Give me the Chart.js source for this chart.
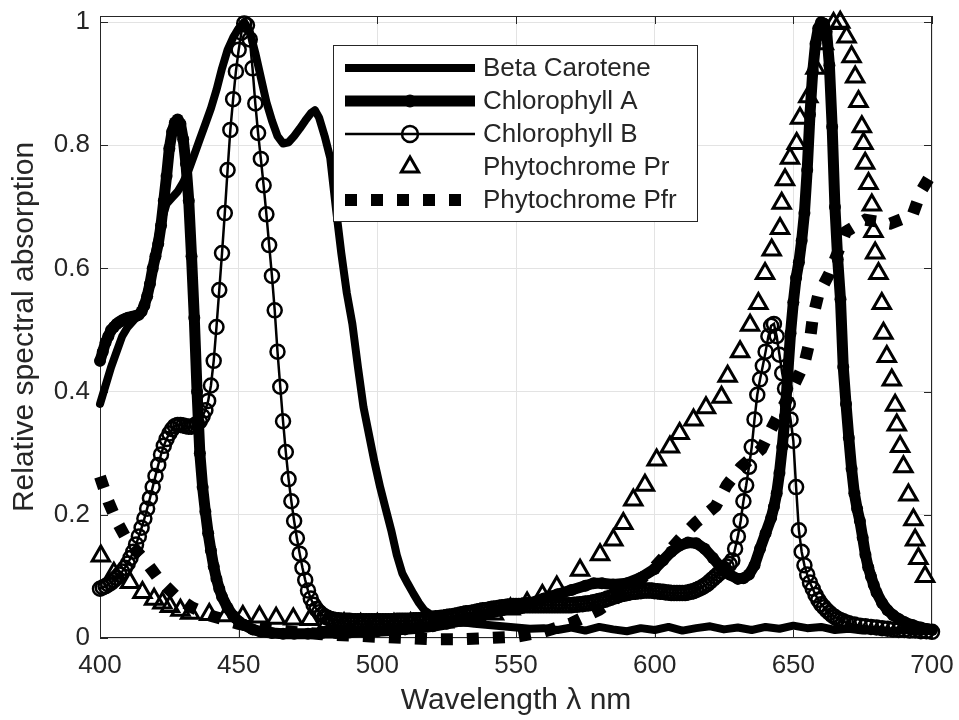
<!DOCTYPE html>
<html>
<head>
<meta charset="utf-8">
<title>Relative spectral absorption</title>
<script src="https://cdn.jsdelivr.net/npm/chart.js@4.4.1/dist/chart.umd.min.js"></script>
<style>
  html, body { margin: 0; padding: 0; background: #fff; }
  canvas { display: block; }
</style>
</head>
<body>
<canvas id="spectra" width="959" height="720"></canvas>
<script>
// [wavelength nm, relative absorption]
const betaCarotene = [
  [400,0.38],[402,0.41],[404,0.44],[406,0.465],[408,0.49],[410,0.505],[412,0.515],[414,0.525],[416,0.545],[418,0.58],
  [420,0.63],[422,0.675],[424,0.705],[426,0.715],[428,0.725],[430,0.74],[432,0.76],[434,0.785],[436,0.81],[438,0.835],
  [440,0.86],[442,0.89],[444,0.925],[446,0.955],[448,0.975],[450,0.99],[452,1.0],[454,0.985],[456,0.95],[458,0.91],
  [460,0.87],[462,0.84],[464,0.815],[466,0.803],[468,0.805],[470,0.815],[472,0.827],[474,0.84],[476,0.852],[477.5,0.857],
  [479,0.845],[481,0.815],[483,0.78],[485,0.7],[487,0.625],[489,0.56],[491,0.51],[493,0.44],[495,0.375],[497,0.33],
  [499,0.285],[501,0.245],[503,0.21],[505,0.175],[507,0.135],[509,0.105],[511,0.088],[513,0.072],[515,0.057],[517,0.045],
  [520,0.036],[525,0.03],[530,0.026],[535,0.023],[540,0.021],[545,0.019],[550,0.017],[555,0.015],[560,0.016],[565,0.013],
  [570,0.017],[575,0.012],[580,0.018],[585,0.014],[590,0.011],[595,0.016],[600,0.013],[605,0.018],[610,0.012],[615,0.016],
  [620,0.019],[625,0.014],[630,0.017],[635,0.013],[640,0.018],[645,0.015],[650,0.02],[655,0.016],[660,0.018],[665,0.013],
  [670,0.015],[675,0.012],[680,0.014],[685,0.011],[690,0.013],[695,0.01],[700,0.012]
];

const chlorophyllA = [
  [400,0.45],[401,0.465],[402,0.48],[403,0.49],[404,0.5],[405,0.505],[406,0.51],[407,0.513],[408,0.516],[409,0.518],
  [410,0.52],[411,0.521],[412,0.522],[413,0.523],[414,0.525],[415,0.53],[416,0.54],[417,0.555],[418,0.575],[419,0.6],
  [420,0.62],[421,0.64],[422,0.67],[423,0.71],[424,0.75],[425,0.795],[426,0.822],[427,0.837],[428,0.842],[429,0.835],
  [430,0.81],[431,0.77],[432,0.71],[433,0.62],[434,0.52],[435,0.4],[436,0.3],[437,0.245],[438,0.205],[439,0.17],
  [440,0.142],[441,0.116],[442,0.096],[443,0.08],[444,0.067],[446,0.049],[448,0.036],[450,0.027],[452,0.021],[455,0.014],
  [458,0.01],[462,0.008],[466,0.007],[470,0.007],[475,0.007],[480,0.008],[485,0.008],[490,0.009],[495,0.01],[500,0.011],
  [505,0.012],[510,0.014],[515,0.016],[520,0.019],[525,0.023],[530,0.028],[535,0.033],[540,0.039],[545,0.045],[550,0.051],
  [555,0.057],[560,0.064],[565,0.071],[570,0.078],[575,0.085],[578,0.089],[581,0.089],[585,0.087],[590,0.089],[595,0.098],
  [600,0.112],[603,0.126],[606,0.14],[609,0.15],[612,0.155],[615,0.154],[618,0.145],[621,0.13],[624,0.114],[627,0.103],
  [630,0.096],[632,0.097],[634,0.103],[636,0.118],[638,0.145],[640,0.17],[642,0.195],[643,0.213],[644,0.235],[645,0.268],
  [646,0.31],[647,0.36],[648,0.43],[649,0.495],[650,0.545],[651,0.585],[652,0.61],[653,0.645],[654,0.69],[655,0.76],
  [656,0.85],[657,0.92],[658,0.965],[659,0.99],[660,1.0],[661,0.998],[662,0.985],[663,0.93],[664,0.83],[665,0.7],
  [666,0.615],[667,0.55],[668,0.44],[669,0.38],[670,0.325],[671,0.275],[672,0.235],[673,0.21],[674,0.19],[675,0.163],
  [676,0.135],[677,0.115],[678,0.1],[679,0.086],[680,0.074],[682,0.057],[684,0.045],[686,0.037],[688,0.031],[690,0.026],
  [693,0.021],[696,0.017],[700,0.013]
];

const chlorophyllB = [
  [400,0.080],[401,0.082],[402,0.084],[403,0.087],[404,0.090],[405,0.094],[406,0.098],[407,0.103],[408,0.108],[409,0.114],
  [410,0.121],[411,0.130],[412,0.140],[413,0.152],[414,0.165],[415,0.179],[416,0.194],[417,0.210],[418,0.227],[419,0.245],
  [420,0.263],[421,0.281],[422,0.298],[423,0.312],[424,0.323],[425,0.332],[426,0.339],[427,0.344],[428,0.346],[429,0.346],
  [430,0.345],[431,0.344],[432,0.343],[433,0.343],[434,0.345],[435,0.348],[436,0.352],[437,0.360],[438,0.370],[439,0.385],
  [440,0.410],[441,0.450],[442,0.505],[443,0.565],[444,0.625],[445,0.690],[446,0.760],[447,0.825],[448,0.875],[449,0.920],
  [450,0.955],[451,0.983],[452,0.998],[453,0.995],[454,0.972],[455,0.925],[456,0.868],[457,0.820],[458,0.778],[459,0.735],
  [460,0.688],[461,0.638],[462,0.588],[463,0.532],[464,0.465],[465,0.408],[466,0.352],[467,0.302],[468,0.258],[469,0.222],
  [470,0.190],[471,0.162],[472,0.137],[473,0.114],[474,0.094],[475,0.077],[476,0.064],[477,0.054],[478,0.047],[479,0.042],
  [480,0.038],[481,0.035],[482,0.033],[483,0.031],[484,0.030],[485,0.029],[486,0.029],[487,0.028],[488,0.028],[489,0.028],
  [490,0.028],[491,0.027],[492,0.027],[493,0.027],[494,0.027],[495,0.027],[496,0.027],[497,0.027],[498,0.027],[499,0.027],
  [500,0.027],[501,0.027],[502,0.027],[503,0.027],[504,0.027],[505,0.027],[506,0.027],[507,0.028],[508,0.028],[509,0.028],
  [510,0.028],[511,0.028],[512,0.028],[513,0.029],[514,0.029],[515,0.029],[516,0.029],[517,0.030],[518,0.030],[519,0.031],
  [520,0.031],[521,0.032],[522,0.032],[523,0.033],[524,0.033],[525,0.034],[526,0.035],[527,0.035],[528,0.036],[529,0.037],
  [530,0.038],[531,0.039],[532,0.040],[533,0.040],[534,0.041],[535,0.042],[536,0.043],[537,0.044],[538,0.045],[539,0.045],
  [540,0.046],[541,0.047],[542,0.048],[543,0.048],[544,0.049],[545,0.050],[546,0.050],[547,0.051],[548,0.051],[549,0.052],
  [550,0.052],[551,0.052],[552,0.052],[553,0.053],[554,0.053],[555,0.053],[556,0.053],[557,0.053],[558,0.053],[559,0.053],
  [560,0.053],[561,0.053],[562,0.053],[563,0.053],[564,0.053],[565,0.053],[566,0.053],[567,0.053],[568,0.053],[569,0.053],
  [570,0.053],[571,0.054],[572,0.054],[573,0.055],[574,0.055],[575,0.056],[576,0.056],[577,0.057],[578,0.058],[579,0.059],
  [580,0.060],[581,0.061],[582,0.062],[583,0.064],[584,0.065],[585,0.067],[586,0.068],[587,0.070],[588,0.071],[589,0.072],
  [590,0.073],[591,0.074],[592,0.075],[593,0.075],[594,0.076],[595,0.076],[596,0.077],[597,0.077],[598,0.077],[599,0.077],
  [600,0.076],[601,0.076],[602,0.075],[603,0.075],[604,0.074],[605,0.074],[606,0.073],[607,0.073],[608,0.073],[609,0.073],
  [610,0.073],[611,0.073],[612,0.074],[613,0.075],[614,0.076],[615,0.078],[616,0.080],[617,0.082],[618,0.085],[619,0.088],
  [620,0.092],[621,0.096],[622,0.100],[623,0.104],[624,0.108],[625,0.112],[626,0.116],[627,0.120],[628,0.126],[629,0.145],
  [630,0.165],[631,0.190],[632,0.222],[633,0.248],[634,0.278],[635,0.310],[636,0.355],[637,0.395],[638,0.420],[639,0.442],
  [640,0.465],[641,0.490],[642,0.507],[643,0.510],[644,0.490],[645,0.460],[646,0.430],[647,0.405],[648,0.380],[649,0.355],
  [650,0.320],[651,0.245],[652,0.175],[653,0.140],[654,0.118],[655,0.103],[656,0.090],[657,0.080],[658,0.070],[659,0.062],
  [660,0.055],[661,0.050],[662,0.045],[663,0.041],[664,0.037],[665,0.034],[666,0.031],[667,0.029],[668,0.027],[669,0.025],
  [670,0.024],[672,0.022],[674,0.020],[676,0.019],[678,0.018],[680,0.017],[682,0.016],[684,0.015],[686,0.014],[688,0.013],
  [690,0.013],[692,0.012],[694,0.012],[696,0.011],[698,0.011],[700,0.010]
];

const phytochromePr = [
  [400.3,0.133],[405,0.105],[410.8,0.09],[415.3,0.074],[419.5,0.063],[422.5,0.057],[425.2,0.051],[429,0.045],[432.5,0.04],
  [439.4,0.038],[445.5,0.036],[451.5,0.035],[457.5,0.034],[463.5,0.032],[469.7,0.031],[475.7,0.03],[482,0.025],[488,0.023],
  [494,0.022],[500,0.022],[506,0.022],[512,0.023],[518,0.024],[524,0.026],[530,0.029],[536,0.033],[542,0.039],[548,0.047],
  [554,0.057],[559.5,0.069],[564.7,0.083],[573.1,0.11],[580.3,0.135],[585.1,0.159],[588.7,0.186],[592.3,0.224],[596.5,0.248],
  [600.7,0.289],[605.5,0.31],[609,0.332],[614,0.354],[618.5,0.374],[624.1,0.391],[626.3,0.425],[630.8,0.465],[634.4,0.508],
  [637.4,0.543],[639.8,0.592],[642.2,0.63],[645.2,0.665],[645.8,0.706],[647,0.744],[648.8,0.779],[651.2,0.803],[652.4,0.844],
  [655.4,0.879],[658,0.925],[661,0.965],[664.5,0.998],[666.9,1.0],[669.2,0.976],[671,0.944],[672.3,0.911],[673.5,0.871],
  [674.7,0.83],[675.3,0.803],[675.9,0.771],[677.1,0.738],[678.3,0.703],[678.9,0.66],[679.5,0.625],[680.7,0.592],[681.9,0.543],
  [682.5,0.495],[683.7,0.457],[685.5,0.419],[686.7,0.378],[687.3,0.346],[688.5,0.311],[689.7,0.278],[691.5,0.232],[693.3,0.192],
  [693.9,0.159],[695.1,0.129],[697.5,0.1]
];

const phytochromePfr = [
  [400,0.262],[403,0.222],[406,0.19],[410,0.157],[416,0.127],[421.5,0.094],[427.5,0.067],[433,0.05],[440,0.036],[450,0.023],
  [460,0.015],[470,0.01],[480,0.006],[490,0.004],[500,0.002],[510,0.0],[520,-0.002],[530,-0.002],[540,0.0],[550,0.002],
  [560,0.01],[570,0.024],[580,0.046],[590,0.076],[600,0.115],[605,0.14],[610,0.165],[615,0.188],[622,0.214],[626,0.248],
  [631,0.277],[638.5,0.307],[642,0.339],[648,0.39],[654,0.446],[656,0.484],[657,0.52],[659,0.557],[663,0.592],[669,0.66],
  [676,0.679],[685,0.673],[693,0.687],[696,0.725],[700,0.755]
];

const seriesNames = ['Beta Carotene', 'Chlorophyll A', 'Chlorophyll B', 'Phytochrome Pr', 'Phytochrome Pfr'];
const xTicks = [400, 450, 500, 550, 600, 650, 700];
const yTicks = [0, 0.2, 0.4, 0.6, 0.8, 1];
const yTickLabels = ['0', '0.2', '0.4', '0.6', '0.8', '1'];

const ink = '#262626';
const fontFamily = "'Liberation Sans', Arial, Helvetica, sans-serif";
const toPoints = arr => arr.map(([x, y]) => ({ x, y }));

// box with inward ticks on all four sides, like the original axes
const axesBox = {
  id: 'axesBox',
  beforeDatasetsDraw(chart) {
    const { ctx, chartArea: a, scales: { x, y } } = chart;
    ctx.save();
    ctx.strokeStyle = ink;
    ctx.lineWidth = 1;
    ctx.strokeRect(a.left + 0.5, a.top + 0.5, a.right - a.left - 1, a.bottom - a.top - 1);
    ctx.beginPath();
    xTicks.forEach(v => {
      const px = Math.round(x.getPixelForValue(v)) + 0.5;
      ctx.moveTo(px, a.bottom); ctx.lineTo(px, a.bottom - 8);
      ctx.moveTo(px, a.top); ctx.lineTo(px, a.top + 8);
    });
    yTicks.forEach(v => {
      const py = Math.round(y.getPixelForValue(v)) + 0.5;
      ctx.moveTo(a.left, py); ctx.lineTo(a.left + 8, py);
      ctx.moveTo(a.right, py); ctx.lineTo(a.right - 8, py);
    });
    ctx.stroke();
    ctx.restore();
  }
};

function drawMarker(ctx, style, r, x, y, filled) {
  ctx.beginPath();
  if (style === 'triangle') {
    for (let k = 0; k < 3; k++) {
      const ang = k * 2 * Math.PI / 3;
      const px = x + Math.sin(ang) * r, py = y - Math.cos(ang) * r;
      k ? ctx.lineTo(px, py) : ctx.moveTo(px, py);
    }
    ctx.closePath();
  } else {
    ctx.arc(x, y, r, 0, Math.PI * 2);
  }
  if (filled) ctx.fill();
  ctx.stroke();
}

// MATLAB-style legend box in the upper middle
const boxLegend = {
  id: 'boxLegend',
  afterDraw(chart) {
    const ctx = chart.ctx;
    const left = 333, top = 45, w = 364, h = 176;
    ctx.save();
    ctx.fillStyle = '#fff';
    ctx.fillRect(left, top, w, h);
    ctx.strokeStyle = ink;
    ctx.lineWidth = 1;
    ctx.strokeRect(left + 0.5, top + 0.5, w, h);
    chart.data.datasets.forEach((ds, i) => {
      const y = 68 + 33 * i;
      ctx.strokeStyle = '#000';
      ctx.fillStyle = '#000';
      if (ds.showLine !== false) {
        ctx.lineWidth = ds.borderWidth;
        ctx.lineCap = 'butt';
        ctx.setLineDash(ds.borderDash || []);
        ctx.beginPath();
        ctx.moveTo(345, y);
        ctx.lineTo(475, y);
        ctx.stroke();
        ctx.setLineDash([]);
      }
      if (ds.pointRadius > 0) {
        ctx.lineWidth = ds.pointBorderWidth || 1;
        drawMarker(ctx, ds.pointStyle, ds.pointRadius + (i === 2 ? 1 : 0), 410, y, ds.pointBackgroundColor === '#000');
      }
      ctx.fillStyle = ink;
      ctx.font = '26px ' + fontFamily;
      ctx.textBaseline = 'middle';
      ctx.textAlign = 'left';
      ctx.fillText(ds.label, 483, y + 1);
    });
    ctx.restore();
  }
};

new Chart(document.getElementById('spectra'), {
  type: 'line',
  data: {
    datasets: [
      {
        label: seriesNames[0],
        data: toPoints(betaCarotene),
        borderColor: '#000',
        borderWidth: 8,
        borderJoinStyle: 'round',
        borderCapStyle: 'round',
        pointRadius: 0,
        clip: false
      },
      {
        label: seriesNames[1],
        data: toPoints(chlorophyllA),
        borderColor: '#000',
        borderWidth: 11,
        borderJoinStyle: 'round',
        borderCapStyle: 'round',
        pointStyle: 'circle',
        pointRadius: 6,
        pointBorderWidth: 0,
        pointBackgroundColor: '#000',
        clip: false
      },
      {
        label: seriesNames[2],
        data: toPoints(chlorophyllB),
        borderColor: '#000',
        borderWidth: 2.5,
        pointStyle: 'circle',
        pointRadius: 7,
        pointBorderWidth: 2.5,
        pointBorderColor: '#000',
        pointBackgroundColor: 'rgba(0,0,0,0)',
        clip: false
      },
      {
        label: seriesNames[3],
        data: toPoints(phytochromePr),
        showLine: false,
        borderColor: '#000',
        borderWidth: 0,
        pointStyle: 'triangle',
        pointRadius: 10,
        pointBorderWidth: 3,
        pointBorderColor: '#000',
        pointBackgroundColor: 'rgba(0,0,0,0)',
        clip: false
      },
      {
        label: seriesNames[4],
        data: toPoints(phytochromePfr),
        borderColor: '#000',
        borderWidth: 12,
        borderDash: [12, 14],
        borderCapStyle: 'butt',
        pointRadius: 0,
        clip: false
      }
    ]
  },
  options: {
    responsive: false,
    animation: false,
    devicePixelRatio: 1,
    layout: { padding: { top: 16, right: 27, left: 0, bottom: 0 } },
    plugins: {
      legend: { display: false },
      tooltip: { enabled: false }
    },
    elements: { line: { tension: 0 } },
    scales: {
      x: {
        type: 'linear',
        min: 400,
        max: 700,
        afterBuildTicks: axis => { axis.ticks = xTicks.map(v => ({ value: v })); },
        afterFit: axis => { axis.height = 82; axis.paddingLeft = 0; axis.paddingRight = 0; },
        ticks: { color: ink, font: { size: 26, family: fontFamily }, padding: 12, maxRotation: 0, autoSkip: false },
        grid: { color: '#e3e3e3', drawTicks: false },
        border: { display: false },
        title: {
          display: true,
          text: 'Wavelength λ nm',
          color: ink,
          font: { size: 30, family: fontFamily },
          padding: { top: 0, bottom: 1 }
        }
      },
      y: {
        type: 'linear',
        min: 0,
        max: 1.01,
        afterBuildTicks: axis => { axis.ticks = yTicks.map(v => ({ value: v })); },
        afterFit: axis => { axis.width = 100; axis.paddingTop = 0; axis.paddingBottom = 0; },
        ticks: {
          color: ink,
          font: { size: 26, family: fontFamily },
          padding: 10,
          callback: v => yTickLabels[yTicks.indexOf(v)]
        },
        grid: { color: '#e3e3e3', drawTicks: false },
        border: { display: false },
        title: {
          display: true,
          text: 'Relative spectral absorption',
          color: ink,
          font: { size: 30, family: fontFamily },
          padding: { top: 7, bottom: 0 }
        }
      }
    }
  },
  plugins: [axesBox, boxLegend]
});
</script>
</body>
</html>
